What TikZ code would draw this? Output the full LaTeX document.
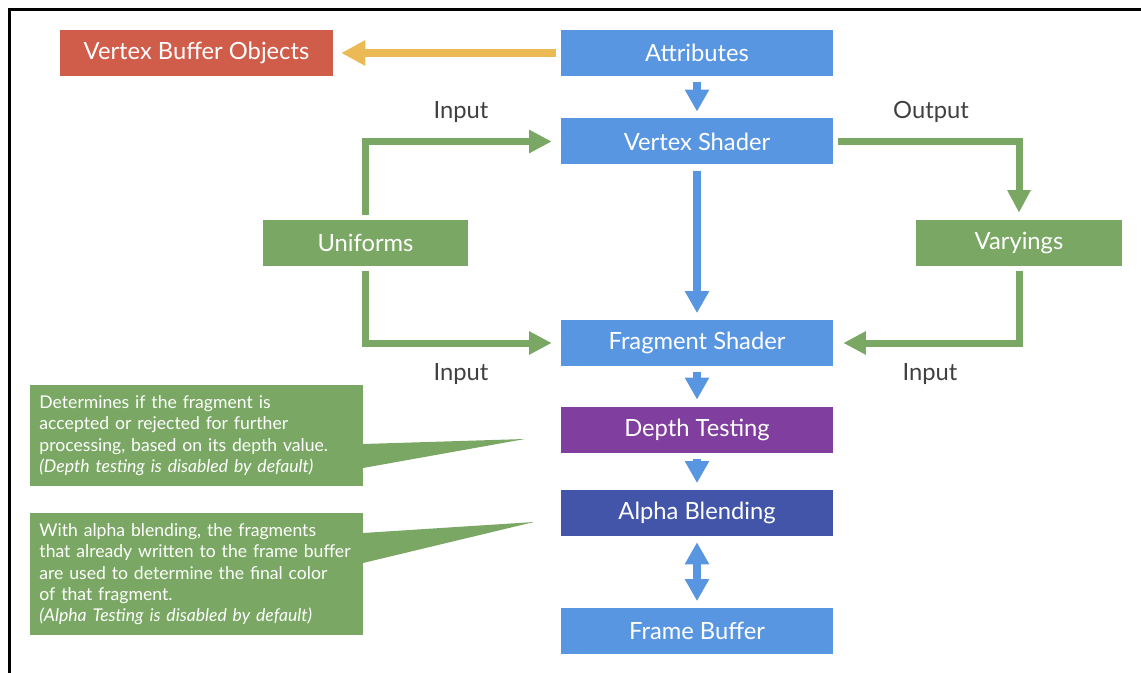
\documentclass[tikz,border=0pt]{standalone}
\usepackage{fontspec}
\setmainfont{Lato}
\usepackage{tikz}
\usetikzlibrary{arrows.meta,positioning,calc}
\definecolor{shaderblue}{RGB}{89,150,226}
\definecolor{depthpurple}{RGB}{128,62,158}
\definecolor{blendblue}{RGB}{67,85,168}
\definecolor{vbored}{RGB}{208,92,74}
\definecolor{leafgreen}{RGB}{122,168,100}
\definecolor{ochre}{RGB}{236,186,84}
\definecolor{labelgray}{RGB}{64,64,64}

\begin{document}
\begin{tikzpicture}[x=0.75pt,y=-0.75pt,
  box/.style={rectangle,inner sep=0pt,minimum width=204pt,minimum height=34.5pt,
    text=white,font=\fontsize{17.8}{20}\selectfont},
  note/.style={rectangle,fill=leafgreen,anchor=north west,inner xsep=6.75pt,inner ysep=0pt,
    minimum width=249.75pt,text width=236pt,align=left,text=white,
    font=\fontsize{13.2}{16}\selectfont},
  tag/.style={anchor=base,text=labelgray,font=\fontsize{17.8}{20}\selectfont},
  bluearrow/.style={shaderblue,line width=6pt,-{Triangle[length=16.5pt,width=17.25pt]},
    shorten <=4.5pt,shorten >=5pt},
  greenarrow/.style={leafgreen,line width=5.25pt,-{Triangle[length=17pt,width=16.5pt]}}]
  \useasboundingbox (0,0) rectangle (1141,673);
  % ---- frame ----
  \draw[line width=2.25pt] (1141,9.5) -- (9,9.5) -- (9,673);
  % ---- pipeline boxes ----
  \node[box,fill=shaderblue] (attr) at (697,53) {Attributes};
  \node[box,fill=shaderblue] (vs) at (697,141.5) {Vertex Shader};
  \node[box,fill=shaderblue] (fs) at (697,343) {Fragment Shader};
  \node[box,fill=depthpurple] (dt) at (697,429.5) {Depth Testing};
  \node[box,fill=blendblue] (ab) at (697,513) {Alpha Blending};
  \node[box,fill=shaderblue] (fb) at (697,631) {Frame Buffer};
  \node[box,fill=vbored,minimum width=204.75pt] (vbo) at (196.5,53) {Vertex Buffer Objects};
  \node[box,fill=leafgreen,minimum width=153.75pt] (unif) at (365.5,243) {Uniforms};
  \node[box,fill=leafgreen,minimum width=154.5pt] (vary) at (1019,243) {Varyings};
  % ---- flow ----
  \draw[ochre,line width=5.5pt,-{Triangle[length=18pt,width=18pt]},shorten <=3.75pt,shorten >=6pt]
      (attr) -- (vbo);
  \draw[bluearrow] (attr) -- (vs);
  \draw[bluearrow] (vs) -- (fs);
  \draw[bluearrow] (fs) -- (dt);
  \draw[bluearrow] (dt) -- (ab);
  \draw[bluearrow,{Triangle[length=16.5pt,width=17.25pt]}-{Triangle[length=16.5pt,width=17.25pt]}] (ab) -- (fb);
  % ---- uniforms and varyings ----
  \draw[greenarrow,shorten <=3.75pt,shorten >=6.75pt] (unif.north) |- (vs.west);
  \draw[greenarrow,shorten <=3.75pt,shorten >=6.75pt] (unif.south) |- (fs.west);
  \draw[greenarrow,shorten <=3.75pt,shorten >=5.25pt] (vs.east) -| (vary.north);
  \draw[greenarrow,shorten <=3.75pt,shorten >=7.5pt] (vary.south) |- (fs.east);
  \node[tag] (inup) at (461,119) {Input};
  \node[tag] (outup) at (931,119) {Output};
  \node[tag] (indown) at (461,380) {Input};
  \node[tag] (inright) at (930,380) {Input};
  % ---- callouts ----
  \node[note,minimum height=75.75pt] (depthnote) at (30,385)
      {Determines if the fragment is\\ accepted or rejected for further\\ processing, based on its depth value.\\ \textit{(Depth testing is disabled by default)}};
  \fill[leafgreen] (363,444) -- (525,439) -- (363,468) -- cycle;
  \node[note,minimum height=91.5pt] (blendnote) at (30,513)
      {With alpha blending, the fragments\\ that already written to the frame buffer\\ are used to determine the final color\\ of that fragment.\\ \textit{(Alpha Testing is disabled by default)}};
  \fill[leafgreen] (363,533) -- (534,522) -- (363,563) -- cycle;
\end{tikzpicture}
\end{document}
